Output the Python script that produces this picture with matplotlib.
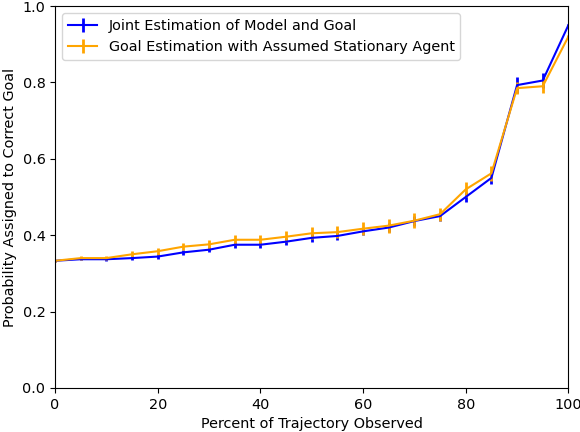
import matplotlib
matplotlib.use('Agg')
from matplotlib import pyplot as plt

pct = [0, 5, 10, 15, 20, 25, 30, 35, 40, 45, 50, 55, 60, 65, 70, 75, 80, 85, 90, 95, 100]

joint = [0.333, 0.337, 0.337, 0.340, 0.344, 0.355, 0.362, 0.375, 0.375, 0.383, 0.393,
         0.398, 0.410, 0.420, 0.437, 0.450, 0.500, 0.550, 0.793, 0.805, 0.950]
joint_err = [0.002, 0.003, 0.004, 0.005, 0.006, 0.007, 0.007, 0.008, 0.008, 0.009, 0.010,
             0.010, 0.010, 0.011, 0.012, 0.012, 0.012, 0.015, 0.020, 0.020, 0.004]

stationary = [0.333, 0.340, 0.340, 0.350, 0.358, 0.370, 0.376, 0.388, 0.388, 0.396, 0.405,
              0.408, 0.417, 0.425, 0.438, 0.455, 0.520, 0.562, 0.785, 0.790, 0.920]
stat_err = [0.002, 0.005, 0.005, 0.008, 0.009, 0.010, 0.011, 0.013, 0.013, 0.014, 0.016,
            0.016, 0.017, 0.018, 0.019, 0.017, 0.020, 0.020, 0.015, 0.018, 0.005]

plt.rcParams['font.size'] = 10.4

plt.figure(figsize=(5.8, 4.32), dpi=100)
plt.errorbar(pct, joint, yerr=joint_err, color='blue', elinewidth=2,
             label='Joint Estimation of Model and Goal')
plt.errorbar(pct, stationary, yerr=stat_err, color='orange', elinewidth=2,
             label='Goal Estimation with Assumed Stationary Agent')
plt.xlim(0, 100)
plt.ylim(0, 1)
plt.xlabel('Percent of Trajectory Observed')
plt.ylabel('Probability Assigned to Correct Goal')
plt.legend(loc='upper left')
plt.subplots_adjust(left=0.095, right=0.98, top=0.986, bottom=0.102)
plt.savefig('out.png')
